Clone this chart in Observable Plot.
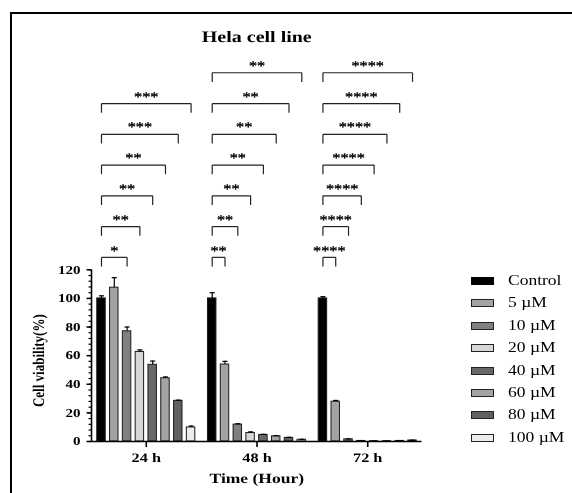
<!DOCTYPE html>
<html><head><meta charset="utf-8">
<script src="https://cdn.jsdelivr.net/npm/d3@7"></script>
<script src="https://cdn.jsdelivr.net/npm/@observablehq/plot@0.6"></script>
<style>
body{margin:0;background:#fff;}
#wrap{position:relative;width:572px;height:493px;overflow:hidden;font-family:"Liberation Serif","Times New Roman",serif;background:#fff;}
#frame{position:absolute;left:10px;top:12px;width:570px;height:490px;border-left:2px solid #000;border-top:2px solid #000;}
#chart{position:absolute;left:0;top:0;will-change:transform;}
#chart text{text-rendering:geometricPrecision;}
.lg-row{position:absolute;left:471px;height:22px;width:100px;}
.sw{position:absolute;left:0;top:7px;width:23px;height:8px;box-sizing:border-box;border:1px solid #222;}
.lb{position:absolute;left:37px;top:2px;font-size:14px;line-height:18px;white-space:nowrap;transform:scaleX(1.25);transform-origin:left center;color:#000;}
</style></head>
<body><div id="wrap"><div id="frame"></div><div id="chart"></div><div id="legend"></div></div>
<script>
// ---- data ----
const times = ["24 h", "48 h", "72 h"];
const concs = ["Control", "5 µM", "10 µM", "20 µM", "40 µM", "60 µM", "80 µM", "100 µM"];
const colors = ["#000000", "#a3a3a3", "#808080", "#d8d8d8", "#686868", "#a3a3a3", "#606060", "#ececec"];
const viability24 = [100, 107.5, 77, 62.6, 53.6, 44.2, 28.4, 9.8];
const err24 = [1.8, 7, 3, 1.4, 2.6, 0.9, 0.5, 1.0];
const viability48 = [100, 53.8, 11.8, 5.9, 4.6, 3.6, 2.5, 1.2];
const err48 = [4, 2.2, 0.6, 0.8, 0.4, 0.5, 0.4, 0.3];
const viability72 = [100, 27.8, 1.5, 0.4, 0.2, 0.2, 0.4, 0.7];
const err72 = [1.2, 0.9, 0.3, 0.2, 0.1, 0.1, 0.2, 0.2];
// significance vs Control for 5..100 µM ("" = not significant)
const sig24 = ["", "*", "**", "**", "**", "***", "***"];
const sig48 = ["**", "**", "**", "**", "**", "**", "**"];
const sig72 = ["****", "****", "****", "****", "****", "****", "****"];
const yTicks = [0, 20, 40, 60, 80, 100, 120];

// ---- build tables ----
const values = [viability24, viability48, viability72];
const errors = [err24, err48, err72];
const sigs = [sig24, sig48, sig72];
const G = 8.65;          // slot units per time group
const BW = 0.66;         // bar width in slot units
const CAP = 0.2;         // error cap half-width
const BASE = 128.7, STEP = 21.5, DROP = 6.4; // bracket layout (y units)
const S = 1.25;          // horizontal text stretch of the reference

const data = [];
times.forEach((t, g) => concs.forEach((c, i) => data.push({time: t, conc: c, x: g * G + i, v: values[g][i], e: errors[g][i]})));
const brackets = [];
times.forEach((t, g) => {
  let k = 0;
  sigs[g].forEach((s, j) => {
    if (!s) return;
    brackets.push({x1: g * G, x2: g * G + j + 1, level: BASE + k * STEP, label: s});
    k++;
  });
});
const centers = times.map((t, g) => g * G + 3.5);
const xDomain = [-0.78, 25.04];

const plot = Plot.plot({
  width: 572, height: 493,
  marginLeft: 91, marginRight: 150.5, marginTop: 269.3, marginBottom: 52,
  style: {fontFamily: "Liberation Serif, Times New Roman, serif", fontWeight: "bold", background: "transparent", overflow: "visible"},
  x: {type: "linear", domain: xDomain, axis: null},
  y: {domain: [0, 120], axis: null},
  color: {domain: concs, range: colors},
  marks: [
    Plot.rect(data, {x1: d => d.x - BW / 2, x2: d => d.x + BW / 2, y1: 0, y2: "v", fill: "conc", stroke: "#1a1a1a", strokeWidth: 1}),
    Plot.ruleX(data, {x: "x", y1: "v", y2: d => d.v + d.e, stroke: "#000", strokeWidth: 1.2}),
    Plot.link(data, {x1: d => d.x - CAP, x2: d => d.x + CAP, y1: d => d.v + d.e, y2: d => d.v + d.e, stroke: "#000", strokeWidth: 1.2}),
    Plot.link(brackets, {x1: "x1", x2: "x2", y1: "level", y2: "level", stroke: "#222", strokeWidth: 1.2}),
    Plot.link(brackets, {x1: "x1", x2: "x1", y1: "level", y2: d => d.level - DROP, stroke: "#222", strokeWidth: 1.2}),
    Plot.link(brackets, {x1: "x2", x2: "x2", y1: "level", y2: d => d.level - DROP, stroke: "#222", strokeWidth: 1.2}),
    Plot.text(brackets, {x: d => (d.x1 + d.x2) / 2, y: "level", text: "label", lineAnchor: "middle", dy: -7, fontSize: 13, fontWeight: "normal", fill: "#000", stroke: "#000", strokeWidth: 0.35}),
    Plot.axisY({ticks: d3.range(0, 121, 4), tickSize: 2.5, tickFormat: () => "", label: null, strokeWidth: 1.2}),
    Plot.axisY({ticks: yTicks, tickSize: 4.5, tickPadding: 6.5, fontSize: 12, fontWeight: "bold", label: null, strokeWidth: 1.5}),
    Plot.ruleX([xDomain[0]], {y1: 0, y2: 120, strokeWidth: 1.6}),
    Plot.ruleY([0], {strokeWidth: 1.6}),
    Plot.axisX({ticks: centers, tickFormat: d => times[Math.round((d - 3.5) / G)], tickSize: 6, tickPadding: 5, fontSize: 13, fontWeight: "bold", label: null, strokeWidth: 1.6}),
    Plot.text(["Time (Hour)"], {frameAnchor: "bottom", textAnchor: "middle", lineAnchor: "middle", dy: 37, fontSize: 14, fontWeight: "bold"}),
    Plot.text(["Cell viability(%)"], {frameAnchor: "left", textAnchor: "middle", rotate: -90, lineAnchor: "middle", dx: -53, dy: 5, fontSize: 13, fontWeight: "bold"}),
    Plot.text(["Hela cell line"], {frameAnchor: "top", textAnchor: "middle", lineAnchor: "middle", dy: -233, fontSize: 16, fontWeight: "bold"})
  ]
});

// reproduce the horizontal stretch of the reference's lettering
plot.querySelectorAll("text").forEach(t => {
  const tr = t.getAttribute("transform") || "";
  if (/rotate/.test(tr)) t.setAttribute("transform", tr + ` scale(1,${S})`);
  else if (tr) t.setAttribute("transform", tr + ` scale(${S},1)`);
});
document.getElementById("chart").appendChild(plot);

// legend
const lg = document.getElementById("legend");
concs.forEach((c, i) => {
  const row = document.createElement("div");
  row.className = "lg-row";
  row.style.top = (270 + i * 22.4) + "px";
  const sw = document.createElement("div");
  sw.className = "sw";
  sw.style.background = colors[i];
  if (i === 0) sw.style.borderColor = "#000";
  const lb = document.createElement("div");
  lb.className = "lb";
  lb.textContent = c;
  row.appendChild(sw); row.appendChild(lb);
  lg.appendChild(row);
});
</script>
</body></html>
